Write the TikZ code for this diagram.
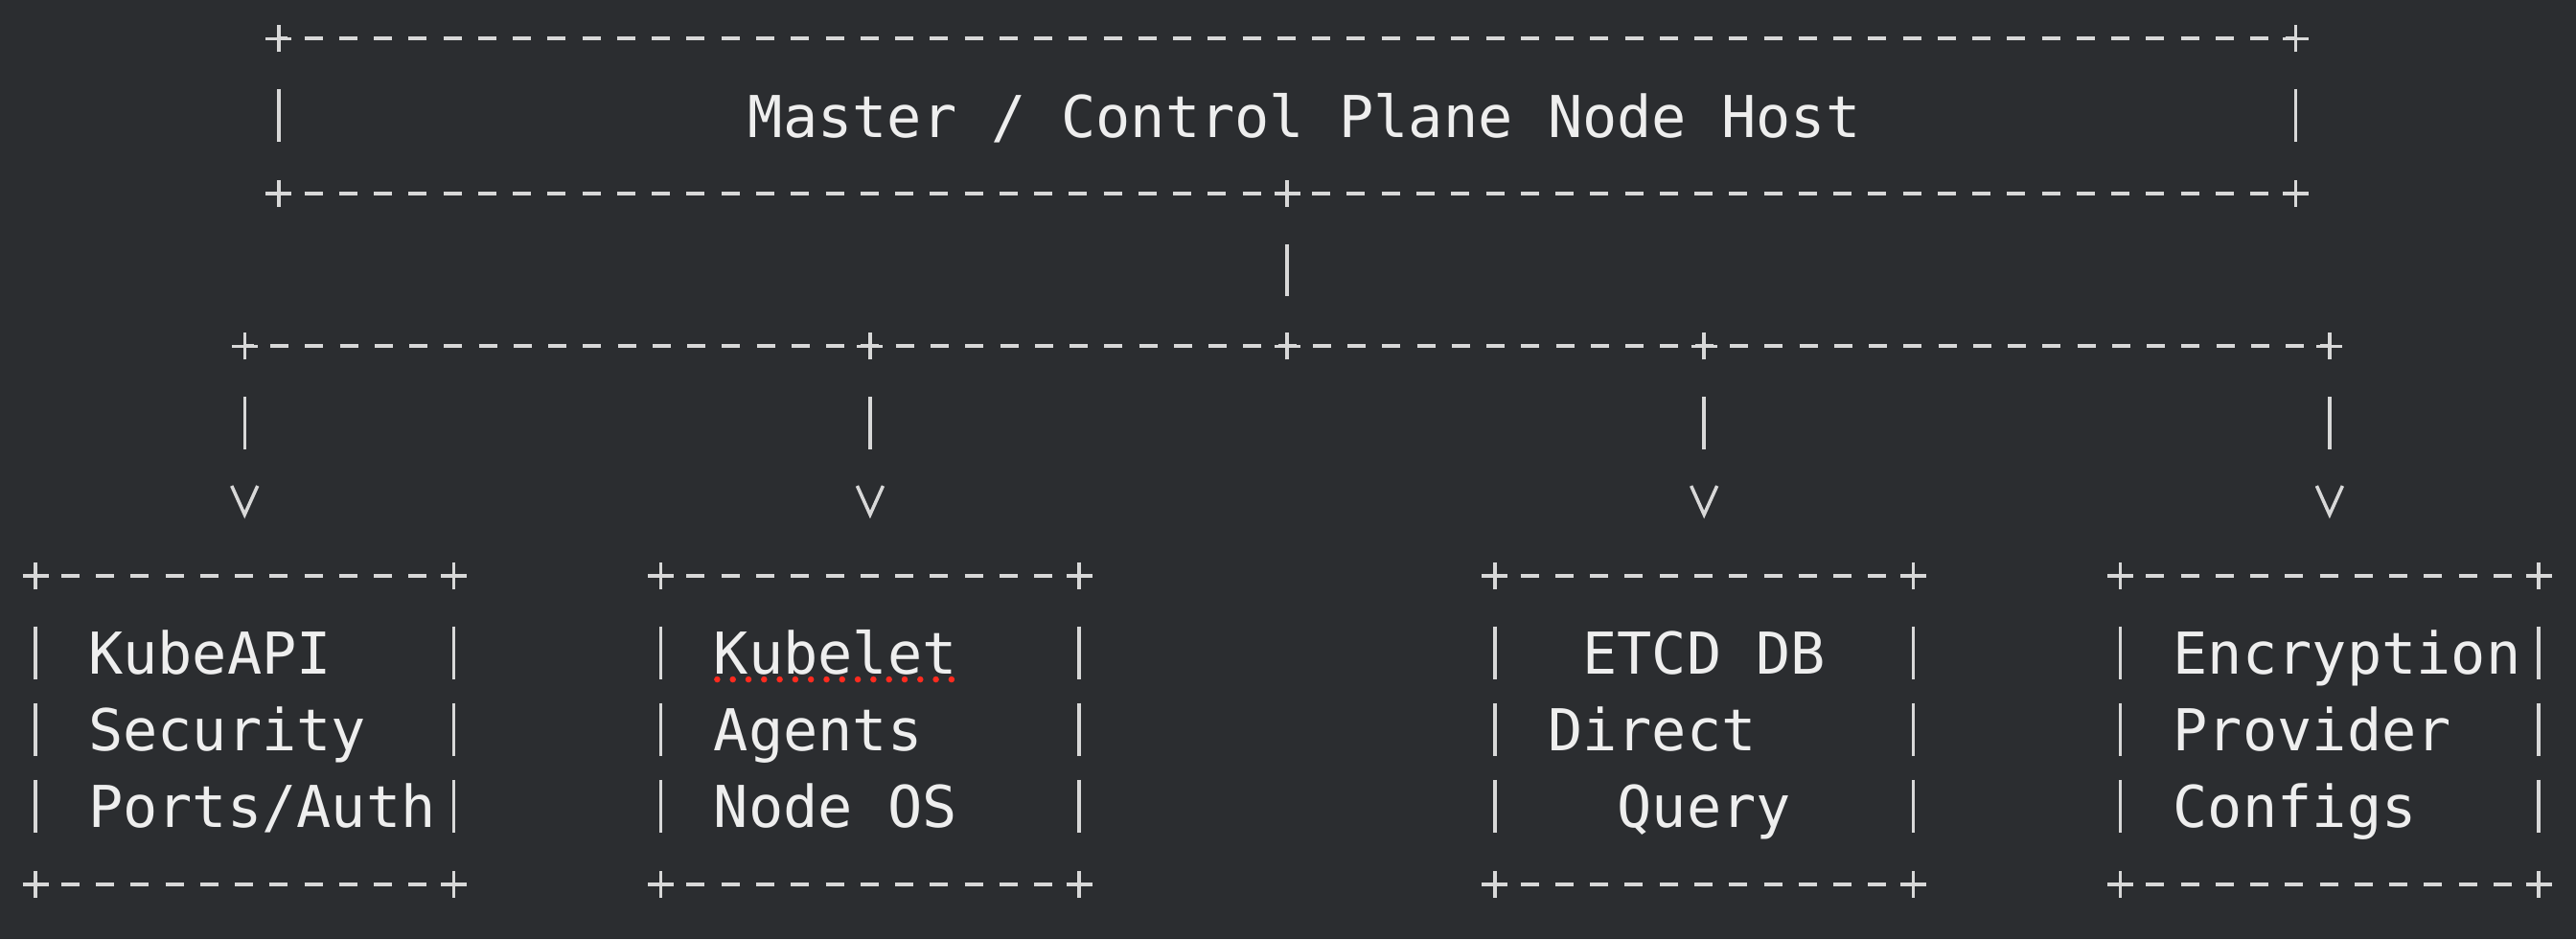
\documentclass[tikz,border=0pt]{standalone}
\usepackage{fontspec}
\setmonofont{DejaVu Sans Mono}
\usetikzlibrary{positioning,arrows.meta}
\definecolor{termbg}{HTML}{2B2D30}
\definecolor{termfg}{HTML}{EEEEEE}
\definecolor{rulegrey}{HTML}{D8D8D8}
\definecolor{spellred}{HTML}{FF2B1F}
\begin{document}
\begin{tikzpicture}[
    x=0.3626cm, y=-0.801cm,
    every node/.style={font=\ttfamily\fontsize{17.14}{22.79}\selectfont, text=termfg, inner sep=0pt},
    hostbox/.style={minimum width=21.03cm, minimum height=1.602cm, text height=0.44cm, text depth=0pt},
    podbox/.style={minimum width=4.351cm, minimum height=3.204cm, text width=3.989cm, text height=0.44cm, text depth=1.606cm},
    hrule/.style={draw=rulegrey, line width=0.04cm, dash pattern=on 0.19cm off 0.1726cm, dash phase=0.095cm},
    vrule/.style={draw=rulegrey, line width=0.035cm, dash pattern=on 0.55cm off 0.251cm, shorten <=0.526cm, shorten >=0.526cm},
    plusmark/.style={draw=rulegrey, line width=0.035cm},
    stem/.style={draw=rulegrey, line width=0.035cm, shorten <=0.526cm, shorten >=0.526cm},
    feed/.style={draw=rulegrey, line width=0.035cm, shorten <=0.526cm, shorten >=0.597cm, dash pattern=on 0.55cm off 3cm, -{Straight Barb[length=0.3cm, width=0.27cm]}},
    spell/.style={draw=spellred, line width=0.065cm, line cap=round, dash pattern=on 0pt off 0.163cm}
]
\path[use as bounding box, fill=termbg] (-1.0397,-0.5119) rectangle (73.092,11.723);

\node[hostbox] (host) at (36,1) {\hphantom{0}Master / Control Plane Node Host};
\node[podbox] (api) at (6,9) {\hphantom{0}KubeAPI\\\hphantom{0}Security\\\hphantom{0}Ports/Auth};
\node[podbox] (kubelet) at (24,9) {\hphantom{0}Kubelet\\\hphantom{0}Agents\\\hphantom{0}Node\hphantom{0}OS};
\node[podbox] (etcd) at (48,9) {\hphantom{00}ETCD\hphantom{0}DB\\\hphantom{0}Direct\\\hphantom{000}Query};
\node[podbox] (crypt) at (66,9) {\hphantom{0}Encryption\\\hphantom{0}Provider\\\hphantom{0}Configs};

\coordinate (japi) at (6,4);
\coordinate (jkubelet) at (24,4);
\coordinate (jhost) at (36,4);
\coordinate (jetcd) at (48,4);
\coordinate (jcrypt) at (66,4);

\foreach \n in {host, api, kubelet, etcd, crypt} {
  \draw[hrule] (\n.north west) -- (\n.north east);
  \draw[hrule] (\n.south west) -- (\n.south east);
  \draw[vrule] (\n.north west) -- (\n.south west);
  \draw[vrule] (\n.north east) -- (\n.south east);
  \foreach \a in {north west, north east, south west, south east}
    \draw[plusmark] (\n.\a) +(-0.135cm,0) -- +(0.135cm,0) +(0,-0.14cm) -- +(0,0.14cm);
}

\draw[stem] (host.south) -- (jhost);
\draw[hrule] (japi) -- (jcrypt);
\foreach \j in {host.south, japi, jkubelet, jhost, jetcd, jcrypt}
  \draw[plusmark] (\j) +(-0.135cm,0) -- +(0.135cm,0) +(0,-0.14cm) -- +(0,0.14cm);

\draw[feed] (japi) -- (api.north);
\draw[feed] (jkubelet) -- (kubelet.north);
\draw[feed] (jetcd) -- (etcd.north);
\draw[feed] (jcrypt) -- (crypt.north);

\draw[spell] (19.6,8.34) -- (26.35,8.34);
\end{tikzpicture}
\end{document}
